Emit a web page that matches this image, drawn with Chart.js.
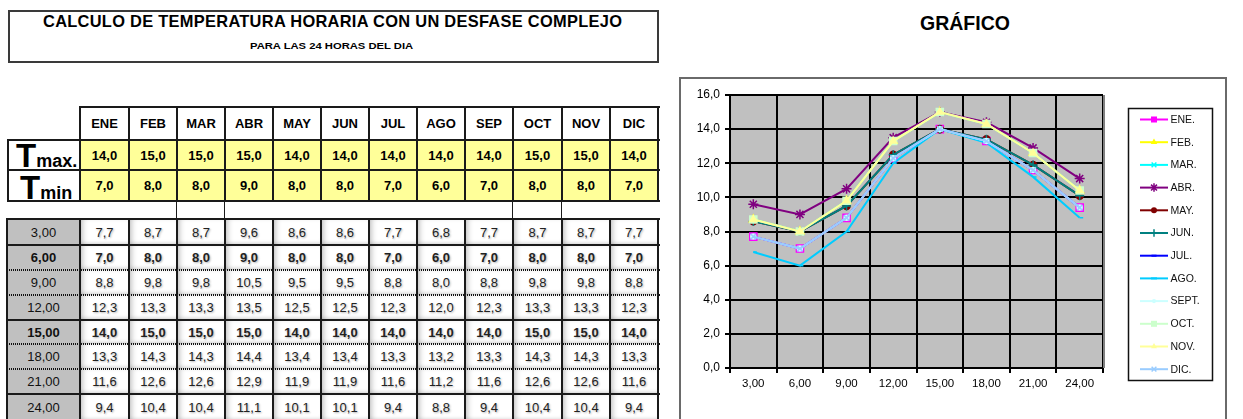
<!DOCTYPE html>
<html><head><meta charset="utf-8">
<script src="https://cdn.jsdelivr.net/npm/chart.js@4/dist/chart.umd.min.js"></script>
<style>
body{margin:0;width:1243px;height:419px;overflow:hidden;background:#fff;font-family:"Liberation Sans",Arial,sans-serif;position:relative;color:#000}
.a{position:absolute;box-sizing:border-box}
.fit{position:absolute;white-space:nowrap;font-weight:bold;transform-origin:0 0}
.c{position:absolute;box-sizing:border-box;display:flex;align-items:center;justify-content:center;white-space:nowrap}
.hl{position:absolute;height:2px;background:#1a1a1a}
.hd{position:absolute;height:2px;background:repeating-linear-gradient(90deg,#111 0 1px,transparent 1px 2px)}
.vl{position:absolute;width:2px;background:#1a1a1a}
#frame{left:679px;top:77px;width:548px;height:360px;border:2px solid #6a6a6a}
#cv{position:absolute;left:680px;top:77px}
</style></head>
<body>
<div class="a" style="left:8px;top:10px;width:651px;height:53px;border:2px solid #3a3a3a"></div>
<div id="t1" class="fit" style="font-size:17px;letter-spacing:0.3px">CALCULO DE TEMPERATURA HORARIA CON UN DESFASE COMPLEJO</div>
<div id="t2" class="fit" style="font-size:9.5px">PARA LAS 24 HORAS DEL DIA</div>
<div class="a" style="left:900px;top:10px;width:130px;text-align:center;font-weight:bold;font-size:19.5px;line-height:26px">GRÁFICO</div>
<div id="tabla"></div>
<div id="frame" class="a"></div>
<canvas id="cv" width="546" height="342"></canvas>
<script>
// ---- Data ----
const meses = ['ENE','FEB','MAR','ABR','MAY','JUN','JUL','AGO','SEP','OCT','NOV','DIC'];
const leyenda = ['ENE.','FEB.','MAR.','ABR.','MAY.','JUN.','JUL.','AGO.','SEPT.','OCT.','NOV.','DIC.'];
const horas = ['3,00','6,00','9,00','12,00','15,00','18,00','21,00','24,00'];
const yTicks = [0,2,4,6,8,10,12,14,16];
const tmax = [14,15,15,15,14,14,14,14,14,15,15,14];
const tmin = [7,8,8,9,8,8,7,6,7,8,8,7];
const ene = [7.7,7.0,8.8,12.3,14.0,13.3,11.6,9.4];
const feb = [8.7,8.0,9.8,13.3,15.0,14.3,12.6,10.4];
const mar = [8.7,8.0,9.8,13.3,15.0,14.3,12.6,10.4];
const abr = [9.6,9.0,10.5,13.5,15.0,14.4,12.9,11.1];
const may = [8.6,8.0,9.5,12.5,14.0,13.4,11.9,10.1];
const jun = [8.6,8.0,9.5,12.5,14.0,13.4,11.9,10.1];
const jul = [7.7,7.0,8.8,12.3,14.0,13.3,11.6,9.4];
const ago = [6.8,6.0,8.0,12.0,14.0,13.2,11.2,8.8];
const sep = [7.7,7.0,8.8,12.3,14.0,13.3,11.6,9.4];
const oct = [8.7,8.0,9.8,13.3,15.0,14.3,12.6,10.4];
const nov = [8.7,8.0,9.8,13.3,15.0,14.3,12.6,10.4];
const dic = [7.7,7.0,8.8,12.3,14.0,13.3,11.6,9.4];
const series = [ene,feb,mar,abr,may,jun,jul,ago,sep,oct,nov,dic];

// ---- Styles ----
const estilos = [
 {c:'#FF00FF',p:'rect',r:5},
 {c:'#FFFF00',p:'triangle',r:4.5},
 {c:'#00FFFF',p:'crossRot',r:4},
 {c:'#800080',p:'star',r:5},
 {c:'#800000',p:'circle',r:3.5},
 {c:'#008080',p:'cross',r:4.5},
 {c:'#0000FF',p:'dash',r:3},
 {c:'#00CCFF',p:'dash',r:3.5},
 {c:'#CCFFFF',p:'circle',r:2.5},
 {c:'#CCFFCC',p:'rect',r:5},
 {c:'#FFFF99',p:'triangle',r:4},
 {c:'#99CCFF',p:'crossRot',r:4}
];
const fmt1 = v => v.toFixed(1).replace('.',',');

// ---- Fit titles ----
function fit(id, left, width, top){
  const el=document.getElementById(id);
  const w=el.offsetWidth; const s=width/w;
  el.style.left=left+'px'; el.style.top=top+'px';
  el.style.transform='scaleX('+s+')';
}
fit('t1',43,579,12);
fit('t2',250,163,40);

// ---- Table ----
const T=document.getElementById('tabla');
const colX=[80,129,177,225,273,321,369,417,465,513,562,610,658];
function add(html){T.insertAdjacentHTML('beforeend',html);}
function cell(x,y,w,h,txt,style){add(`<div class="c" style="left:${x}px;top:${y}px;width:${w}px;height:${h}px;${style||''}">${txt}</div>`);}
// header
for(let i=0;i<12;i++){
  const x=colX[i], w=colX[i+1]-colX[i];
  cell(x,107,w,33,meses[i],'font-weight:bold;font-size:13px;background:#fff');
  cell(x,140,w,30,fmt1(tmax[i]),'font-weight:bold;font-size:13px;background:#FFFF99');
  cell(x,170,w,31,fmt1(tmin[i]),'font-weight:bold;font-size:13px;background:#FFFF99');
}
add('<div class="hl" style="left:80px;top:106px;width:580px"></div>');
add('<div class="hl" style="left:7px;top:139px;width:653px"></div>');
add('<div class="hl" style="left:7px;top:169px;width:653px"></div>');
add('<div class="hl" style="left:7px;top:200px;width:653px"></div>');
add('<div class="vl" style="left:7px;top:139px;height:63px"></div>');
colX.forEach(x=>add(`<div class="vl" style="left:${x-1}px;top:106px;height:96px"></div>`));
[177,225,513,562].forEach(x=>add(`<div class="vl" style="left:${x-1}px;top:201px;height:18px;width:1px"></div>`));
add('<div class="a" style="left:16px;top:139px;line-height:1;font-weight:bold;white-space:nowrap"><span style="font-size:33px">T</span><span style="font-size:18px">max.</span></div>');
add('<div class="a" style="left:20px;top:171px;line-height:1;font-weight:bold;white-space:nowrap"><span style="font-size:33px">T</span><span style="font-size:18px">min</span></div>');
// body
const rowY=[219,245,270,295,320,344,369,394,421];
const lineas=['s','s','d','d','s','d','d','s'];
const negrita=[false,true,false,false,true,false,false,false];
for(let r=0;r<8;r++){
  const y=rowY[r], h=rowY[r+1]-rowY[r];
  const fw=negrita[r]?'bold':'normal';
  cell(7,y,73,h,horas[r],`background:#C0C0C0;font-size:13px;font-weight:${fw};color:#111`);
  for(let i=0;i<12;i++){
    const x=colX[i], w=colX[i+1]-colX[i];
    cell(x,y,w,h,fmt1(series[i][r]),`background:#fff;font-size:13px;font-weight:${fw};color:#222;box-shadow:inset 5px 0 6px -3px rgba(0,0,0,0.30),inset 0 -4px 5px -3px rgba(0,0,0,0.22);text-shadow:1px 1px 2px rgba(0,0,0,0.3)`);
  }
  add(`<div class="${lineas[r]==='s'?'hl':'hd'}" style="left:7px;top:${y-1}px;width:653px"></div>`);
}
add('<div class="vl" style="left:6px;top:218px;height:202px"></div>');
colX.forEach(x=>add(`<div class="vl" style="left:${x-1}px;top:218px;height:202px"></div>`));

// ---- Chart ----
function marker(ctx,type,x,y,r,color){
  ctx.save();ctx.strokeStyle=color;ctx.fillStyle=color;ctx.lineWidth=1.5;ctx.beginPath();
  if(type==='rect'){const s=r*Math.SQRT1_2;ctx.fillRect(x-s,y-s,2*s,2*s);}
  else if(type==='circle'){ctx.arc(x,y,r,0,Math.PI*2);ctx.fill();}
  else if(type==='triangle'){ctx.moveTo(x,y-r);ctx.lineTo(x+r*0.87,y+r*0.5);ctx.lineTo(x-r*0.87,y+r*0.5);ctx.closePath();ctx.fill();}
  else if(type==='cross'){ctx.moveTo(x-r,y);ctx.lineTo(x+r,y);ctx.moveTo(x,y-r);ctx.lineTo(x,y+r);ctx.stroke();}
  else if(type==='crossRot'){const s=r*0.7;ctx.moveTo(x-s,y-s);ctx.lineTo(x+s,y+s);ctx.moveTo(x+s,y-s);ctx.lineTo(x-s,y+s);ctx.stroke();}
  else if(type==='star'){const s=r*0.7;ctx.moveTo(x-s,y-s);ctx.lineTo(x+s,y+s);ctx.moveTo(x+s,y-s);ctx.lineTo(x-s,y+s);ctx.moveTo(x,y-r);ctx.lineTo(x,y+r);ctx.stroke();}
  else if(type==='dash'){ctx.lineWidth=2;ctx.moveTo(x-r,y);ctx.lineTo(x+r,y);ctx.stroke();}
  ctx.restore();
}
const fondo={id:'fondo',beforeDraw(ch){const a=ch.chartArea,c=ch.ctx;c.save();c.fillStyle='#C0C0C0';c.fillRect(a.left,a.top,a.right-a.left,a.bottom-a.top);c.restore();}};
const marcoDer={id:'marcoDer',afterDatasetsDraw(ch){const a=ch.chartArea,c=ch.ctx;c.save();c.strokeStyle='#808080';c.lineWidth=2;c.beginPath();c.moveTo(a.right+1,a.top);c.lineTo(a.right+1,a.bottom);c.stroke();c.restore();}};
const leyendaPlugin={id:'leyendaPlugin',afterDraw(ch){
  const c=ch.ctx;c.save();
  c.strokeStyle='#111';c.lineWidth=1.5;c.strokeRect(448.5,31.5,84,272);
  c.font='10.5px "Liberation Sans", Arial, sans-serif';c.textBaseline='middle';c.fillStyle='#111';
  for(let i=0;i<12;i++){
    const y=42.5+i*22.7, e=estilos[i];
    c.strokeStyle=e.c;c.lineWidth=2;c.beginPath();c.moveTo(460,y);c.lineTo(488,y);c.stroke();
    marker(c,e.p,474,y,e.r*0.85,e.c);
    c.fillStyle='#111';c.fillText(leyenda[i],490.5,y+0.5);
  }
  c.restore();
}};
new Chart(document.getElementById('cv'),{
  type:'line',
  data:{labels:horas,datasets:series.map((d,i)=>({
    label:leyenda[i],data:d,borderColor:estilos[i].c,backgroundColor:estilos[i].c,
    pointStyle:estilos[i].p,pointRadius:estilos[i].r,pointBorderColor:estilos[i].c,pointBackgroundColor:estilos[i].c,
    pointBorderWidth:1.5,borderWidth:2,tension:0,fill:false,order:11-i}))},
  options:{
    responsive:false,animation:false,devicePixelRatio:1,
    layout:{padding:{left:0,top:18,right:123,bottom:0}},
    plugins:{legend:{display:false},tooltip:{enabled:false}},
    scales:{
      x:{offset:true,grid:{offset:true,color:'#000',lineWidth:2,tickLength:5},border:{color:'#000',width:2},
         ticks:{color:'#000',font:{size:11.5,family:'"Liberation Sans", Arial, sans-serif'},padding:4,maxRotation:0,autoSkip:false},
         afterFit:s=>{s.height=51;}},
      y:{min:0,max:16,afterBuildTicks:s=>{s.ticks=yTicks.map(v=>({value:v}));},
         ticks:{callback:v=>fmt1(v),color:'#000',font:{size:12,family:'"Liberation Sans", Arial, sans-serif'},padding:5},
         grid:{color:'#000',lineWidth:2,tickLength:5},border:{color:'#000',width:2},
         afterFit:s=>{s.width=50;}}
    }
  },
  plugins:[fondo,marcoDer,leyendaPlugin]
});
</script>
</body></html>
